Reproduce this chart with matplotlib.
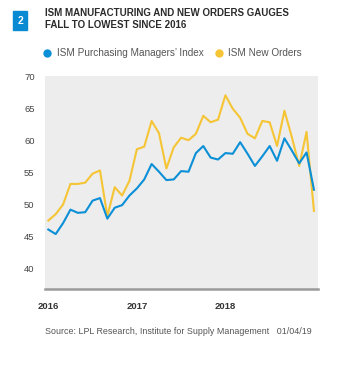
import matplotlib
matplotlib.use('Agg')
import matplotlib.pyplot as plt
from matplotlib.patches import Rectangle

# Monthly readings, Jan 2016 .. Jan 2019
pmi = [46.1, 45.4, 47.1, 49.2, 48.7, 48.8, 50.6, 51.0, 47.8, 49.5, 49.9, 51.4,
       52.5, 53.9, 56.3, 55.1, 53.8, 53.9, 55.2, 55.1, 58.0, 59.1, 57.3, 57.0,
       58.0, 57.9, 59.7, 57.9, 56.0, 57.5, 59.1, 56.8, 60.3, 58.4, 56.4, 58.1,
       52.3]
new_orders = [47.5, 48.5, 50.0, 53.2, 53.2, 53.4, 54.8, 55.3, 48.2, 52.7, 51.4, 53.7,
              58.6, 59.0, 63.0, 61.1, 55.6, 58.9, 60.4, 60.0, 61.0, 63.8, 62.8, 63.2,
              67.0, 64.9, 63.5, 61.0, 60.3, 63.0, 62.8, 59.1, 64.6, 60.5, 56.0, 61.3,
              49.0]
year_labels = ['2016', '2017', '2018']
y_ticks = [40, 45, 50, 55, 60, 65, 70]

BLUE = '#0b8fd6'
YELLOW = '#f5c535'

plt.rcParams['font.family'] = ['Liberation Sans', 'DejaVu Sans']

fig = plt.figure(figsize=(3.41, 3.70), dpi=100)
W, H = 341., 370.

# Plot area
ax = fig.add_axes([45 / W, 1 - 289.3 / H, 273 / W, (289.3 - 76) / H])
ax.set_facecolor('#ededed')
xs = list(range(len(pmi)))
ax.plot(xs, new_orders, color=YELLOW, lw=1.5, zorder=3)
ax.plot(xs, pmi, color=BLUE, lw=1.5, zorder=4)

ax.set_xlim(-0.45, 36.55)
ax.set_ylim(36.8, 70)
ax.set_yticks(y_ticks)
ax.set_yticklabels([str(t) for t in y_ticks], fontsize=6.8, color='#444444')
ax.set_xticks([0, 12, 24])
ax.set_xticklabels(year_labels, fontsize=6.8, color='#333333', fontweight='bold')
ax.tick_params(axis='both', length=0)
ax.tick_params(axis='y', pad=7.5)
ax.tick_params(axis='x', pad=9.5)
for side in ['top', 'right', 'left']:
    ax.spines[side].set_visible(False)
ax.spines['bottom'].set_color('#9a9a9a')
ax.spines['bottom'].set_linewidth(1.8)

# Title block
fig.patches.append(Rectangle((13 / W, 1 - 30 / H), 14 / W, 19 / H,
                             transform=fig.transFigure, color='#0a8ad2', zorder=5))
fig.text(20 / W, 1 - 20.5 / H, '2', color='white', fontsize=7.5, fontweight='bold',
         ha='center', va='center', zorder=6)
fig.text(45 / W, 1 - 13 / H, 'ISM MANUFACTURING AND NEW ORDERS GAUGES',
         fontsize=7, fontweight='bold', color='#2b2b2b', va='center')
fig.text(45 / W, 1 - 25.5 / H, 'FALL TO LOWEST SINCE 2016',
         fontsize=7, fontweight='bold', color='#2b2b2b', va='center')

# Legend
fig.lines.append(plt.Line2D([47 / W], [1 - 53 / H], marker='o', ms=5, color=BLUE,
                            lw=0, transform=fig.transFigure))
fig.text(57 / W, 1 - 53 / H, 'ISM Purchasing Managers\u2019 Index', fontsize=7.2,
         color='#555555', va='center')
fig.lines.append(plt.Line2D([219 / W], [1 - 53 / H], marker='o', ms=5, color=YELLOW,
                            lw=0, transform=fig.transFigure))
fig.text(228 / W, 1 - 53 / H, 'ISM New Orders', fontsize=7.2,
         color='#555555', va='center')

# Source
fig.text(45 / W, 1 - 331 / H,
         'Source: LPL Research, Institute for Supply Management   01/04/19',
         fontsize=6.4, color='#555555', va='center')

fig.savefig('out.png', dpi=100)
